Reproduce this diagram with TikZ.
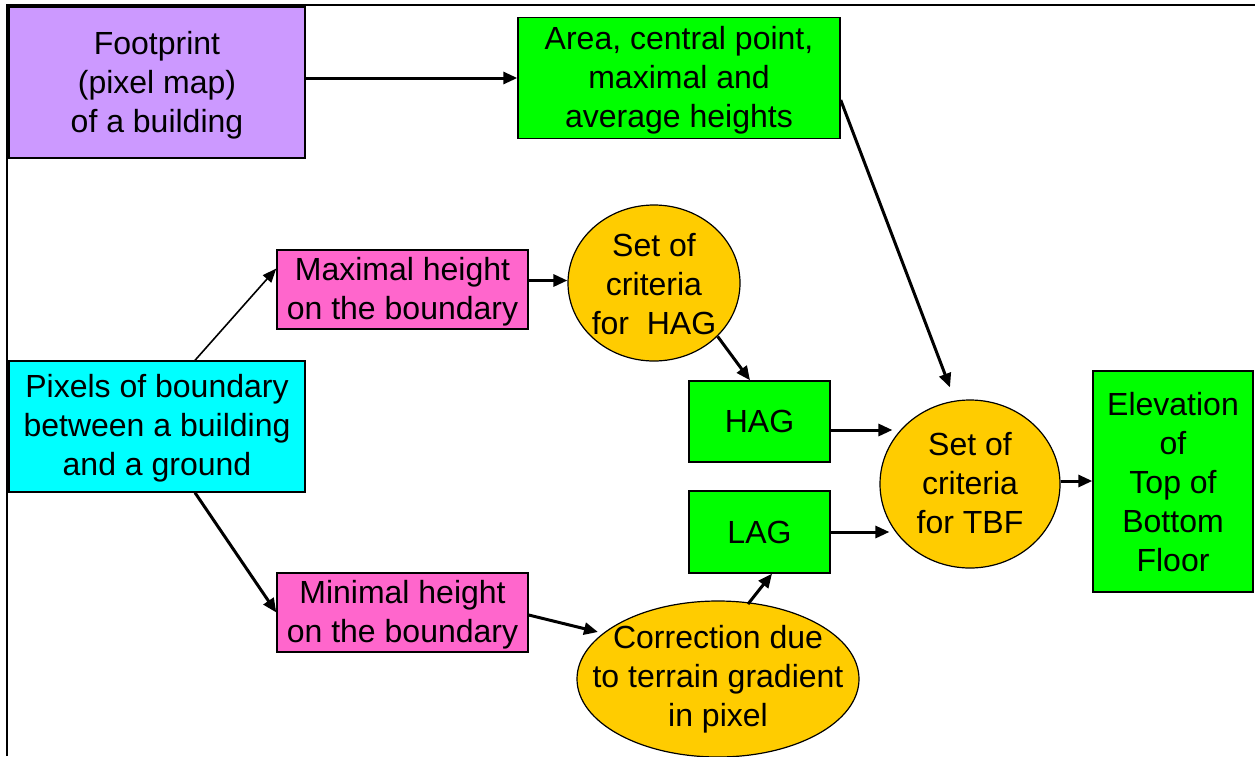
\documentclass[tikz,border=0pt]{standalone}
\usepackage{fontspec}
\setmainfont{Liberation Sans}
\usetikzlibrary{arrows.meta,calc,shapes.geometric}
\definecolor{purp}{HTML}{CC99FF}
\definecolor{grn}{HTML}{00FF00}
\definecolor{pnk}{HTML}{FF66CC}
\definecolor{cyn}{HTML}{00FFFF}
\definecolor{yel}{HTML}{FFCC00}
\begin{document}
\begin{tikzpicture}[x=1pt,y=-1pt,
  every node/.style={font=\fontsize{32}{39}\selectfont, align=center},
  boxst/.style={draw=black, line width=1.4pt, rectangle, inner sep=0pt},
  ellst/.style={draw=black, line width=1.2pt, ellipse, fill=yel, inner sep=0pt},
  txt/.style={inner sep=0pt},
  arr/.style={line width=3pt, -{Triangle[length=14pt,width=12pt]}},
  tarr/.style={line width=1.6pt, -{Triangle[length=14pt,width=11pt]}}]
\useasboundingbox (0,0) rectangle (1255,756);
% frame
\draw[line width=2.8pt] (7,756) -- (7,5) -- (1255,5);
% nodes
\node[boxst, fill=purp, minimum width=296pt, minimum height=151pt] (foot) at (157,82.5) {};
\node[txt] (foott) at ([yshift=-3pt]foot.center) {Footprint\\(pixel map)\\of a building};
\node[boxst, fill=grn, minimum width=322pt, minimum height=121pt] (area) at (679,78) {};
\node[txt] (areat) at ([yshift=-2pt]area.center) {Area, central point,\\maximal and\\average heights};
\node[boxst, fill=pnk, minimum width=251pt, minimum height=79pt] (maxh) at (402.5,289.5) {};
\node[txt] (maxht) at ([yshift=-2pt]maxh.center) {Maximal height\\on the boundary};
\node[boxst, fill=cyn, minimum width=296pt, minimum height=131pt] (pix) at (157,426.5) {};
\node[txt] (pixt) at ([yshift=-2pt]pix.center) {Pixels of boundary\\between a building\\and a ground};
\node[boxst, fill=pnk, minimum width=251pt, minimum height=79pt] (minh) at (402.5,612.5) {};
\node[txt] (minht) at ([yshift=-2pt]minh.center) {Minimal height\\on the boundary};
\node[boxst, fill=grn, minimum width=141pt, minimum height=81pt] (hag) at (759.5,421.5) {HAG};
\node[boxst, fill=grn, minimum width=141pt, minimum height=82pt] (lag) at (759.5,532) {LAG};
\node[boxst, fill=grn, minimum width=160pt, minimum height=221pt] (elev) at (1173,481.5) {};
\node[txt] (elevt) at ([yshift=-1pt]elev.center) {Elevation\\of\\Top of\\Bottom\\Floor};
\node[ellst, minimum width=172pt, minimum height=156pt] (crhag) at (654,283) {};
\node[txt] (crhagt) at ([yshift=-1pt]crhag.center) {Set of\\criteria\\for\ \ HAG};
\node[ellst, minimum width=180pt, minimum height=168pt] (tbf) at (970,484) {};
\node[txt] (tbft) at ([yshift=1pt]tbf.center) {Set of\\criteria\\for TBF};
\node[ellst, minimum width=282pt, minimum height=156pt] (corr) at (718,679) {};
\node[txt] (corrt) at ([yshift=0pt]corr.center) {Correction due\\to terrain gradient\\in pixel};
% connectors
\draw[arr] (foot.east |- area.west) -- (area.west);
\draw[arr] ([yshift=-22pt]area.east) -- ($(tbf.north)+(-20,-12)$);
\draw[tarr] ([xshift=38pt]pix.north) -- ([yshift=21pt]maxh.west);
\draw[arr] ([xshift=38pt]pix.south) -- (minh.west);
\draw[arr] ([yshift=9pt]maxh.east) -- ([yshift=9pt]maxh.east -| crhag.west);
\draw[arr] (crhag.-40) -- ([xshift=-9.5pt]hag.north);
\draw[arr] ([yshift=-8.5pt]hag.east) -- ([yshift=-8.5pt]hag.east -| {$(tbf.west)+(13,0)$});
\draw[arr] (lag.east) -- (lag.east -| {$(tbf.west)+(10,0)$});
\draw[arr] ([yshift=3pt]tbf.east) -- ([yshift=3pt]tbf.east -| elev.west);
\draw[arr] ([yshift=-2.5pt]minh.east) -- ($(corr.center)+(-120,-47)$);
\draw[arr] ($(corr.center)+(30,-75)$) -- ([xshift=12.5pt]lag.south);
\end{tikzpicture}
\end{document}
